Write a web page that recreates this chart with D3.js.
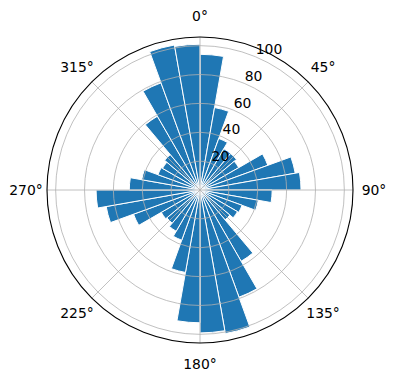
<!DOCTYPE html>
<html>
<head>
<meta charset="utf-8">
<script src="https://cdn.jsdelivr.net/npm/d3@7"></script>
<style>
  html, body { margin: 0; padding: 0; background: #fff; }
  svg { display: block; }
  text { font-family: "DejaVu Sans", sans-serif; font-size: 13.9px; fill: #000; }
</style>
</head>
<body>
<svg id="chart" width="396" height="380"></svg>
<script>
// Data: bar start directions (degrees, clockwise from north), each 10° wide
const directions = d3.range(0, 360, 10);
const values = [94, 58, 38, 33, 33, 31, 50, 67, 70, 50, 41, 31,
                30, 27, 57, 79, 101, 99, 92, 58, 37, 33, 30, 31,
                49, 66, 72, 49, 41, 31, 30, 32, 59, 79, 102, 101];
const binWidth = 10;
const rTicks = [20, 40, 60, 80, 100];
const thetaTicks = [0, 45, 90, 135, 180, 225, 270, 315];
const thetaLabels = ["0°", "45°", "90°", "135°", "180°", "225°", "270°", "315°"];
const rMax = 106;

const cx = 200, cy = 190, R = 153;
const svg = d3.select("#chart");
const g = svg.append("g").attr("transform", `translate(${cx},${cy})`);

const r = d3.scaleLinear().domain([0, rMax]).range([0, R]);
const toRad = d => d * Math.PI / 180;

// Bars
const arc = d3.arc()
  .innerRadius(0)
  .outerRadius(d => r(d.v))
  .startAngle(d => toRad(d.a))
  .endAngle(d => toRad(d.a + binWidth));

g.append("g").selectAll("path")
  .data(directions.map((a, i) => ({a, v: values[i]})))
  .join("path")
  .attr("d", arc)
  .attr("fill", "#1f77b4")
  .attr("stroke", "#fff")
  .attr("stroke-width", 1);

// Grid (drawn above bars)
const grid = g.append("g").attr("fill", "none").attr("stroke", "#b0b0b0").attr("stroke-width", 0.8);
grid.selectAll("circle").data(rTicks).join("circle").attr("r", d => r(d));
grid.selectAll("line").data(thetaTicks).join("line")
  .attr("x1", 0).attr("y1", 0)
  .attr("x2", d => R * Math.sin(toRad(d)))
  .attr("y2", d => -R * Math.cos(toRad(d)));

// Outer spine
g.append("circle").attr("r", R).attr("fill", "none").attr("stroke", "#000").attr("stroke-width", 1.1);

// Angular labels
const labR = R + 21;
g.append("g").selectAll("text").data(thetaTicks).join("text")
  .attr("x", d => labR * Math.sin(toRad(d)))
  .attr("y", d => -labR * Math.cos(toRad(d)))
  .attr("text-anchor", "middle")
  .attr("dominant-baseline", "central")
  .text((d, i) => thetaLabels[i]);

// Radial labels at 22.5°
const rlab = toRad(22.5);
g.append("g").selectAll("text").data(rTicks).join("text")
  .attr("x", d => r(d) * Math.sin(rlab) + 0.5)
  .attr("y", d => -r(d) * Math.cos(rlab) - 2.3)
  .attr("text-anchor", "start")
  .text(d => d);
</script>
</body>
</html>
